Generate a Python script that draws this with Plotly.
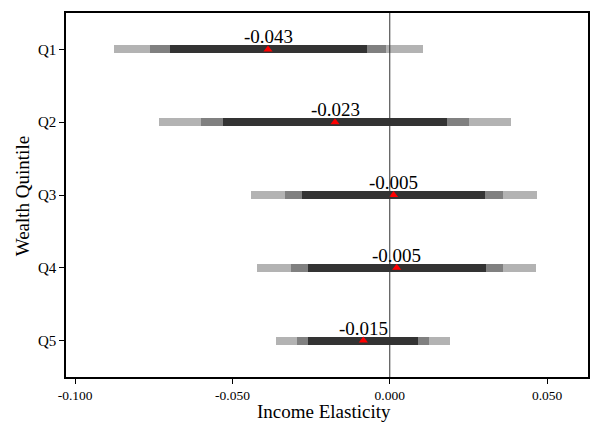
import plotly.graph_objects as go

quintiles = ["Q1", "Q2", "Q3", "Q4", "Q5"]
positions = [1, 2, 3, 4, 5]
point = [-0.0387, -0.0174, 0.0012, 0.0022, -0.0084]
labels = ["-0.043", "-0.023", "-0.005", "-0.005", "-0.015"]
ci_outer_lo = [-0.0878, -0.0732, -0.0442, -0.0421, -0.0361]
ci_outer_hi = [0.0105, 0.0384, 0.0467, 0.0465, 0.0192]
ci_mid_lo = [-0.0761, -0.0599, -0.0333, -0.0315, -0.0295]
ci_mid_hi = [-0.0012, 0.0252, 0.0359, 0.0359, 0.0126]
ci_in_lo = [-0.0700, -0.0530, -0.0278, -0.0260, -0.0260]
ci_in_hi = [-0.0073, 0.0182, 0.0304, 0.0306, 0.0091]
x_ticks = [-0.1, -0.05, 0.0, 0.05]
x_ticktext = ["-0.100", "-0.050", "0.000", "0.050"]
x_title = "Income Elasticity"
y_title = "Wealth Quintile"

FONT = "Liberation Serif, Times New Roman, serif"

fig = go.Figure()
for lo, hi, col in [(ci_outer_lo, ci_outer_hi, "#b3b3b3"),
                    (ci_mid_lo, ci_mid_hi, "#808080"),
                    (ci_in_lo, ci_in_hi, "#333333")]:
    fig.add_trace(go.Bar(
        y=positions, x=[h - l for l, h in zip(lo, hi)], base=lo,
        orientation="h", width=0.11, marker=dict(color=col, line=dict(width=0)),
        showlegend=False, hoverinfo="skip"))

fig.add_trace(go.Scatter(
    x=point, y=positions, mode="markers",
    marker=dict(symbol="triangle-up", size=8, color="red"),
    showlegend=False))

for xv, yv, t in zip(point, positions, labels):
    fig.add_annotation(x=xv, y=yv, text=t, showarrow=False, yanchor="bottom",
                       yshift=0, font=dict(family=FONT, size=19, color="black"))

fig.add_annotation(x=0.494, y=-0.094, xref="paper", yref="paper", text=x_title,
                   showarrow=False, xanchor="center", yanchor="middle",
                   font=dict(family=FONT, size=19, color="black"))
fig.add_annotation(x=-0.084, y=0.497, xref="paper", yref="paper", text=y_title,
                   showarrow=False, xanchor="center", yanchor="middle", textangle=-90,
                   font=dict(family=FONT, size=19, color="black"))

fig.add_shape(type="line", x0=0, x1=0, y0=0, y1=1, yref="paper", xref="x",
              line=dict(color="#333333", width=1), layer="above")

fig.update_layout(
    width=595, height=422,
    margin=dict(l=66, r=7, t=13, b=45, autoexpand=False),
    paper_bgcolor="white", plot_bgcolor="white",
    barmode="overlay", bargap=0,
    font=dict(family=FONT, color="black"),
    xaxis=dict(range=[-0.1029, 0.063], tickvals=x_ticks, ticktext=x_ticktext,
               ticks="outside", ticklen=5, tickcolor="black", showgrid=False,
               zeroline=False, showline=True, linecolor="black", linewidth=1.5,
               mirror=True, tickfont=dict(size=13.5), automargin=False),
    yaxis=dict(range=[5.5, 0.5], tickvals=positions, ticktext=quintiles,
               ticks="outside", ticklen=5, tickcolor="black", showgrid=False,
               zeroline=False, showline=True, linecolor="black", linewidth=1.5,
               mirror=True, tickfont=dict(size=15), automargin=False),
)

fig.write_html("out.html", config={"displayModeBar": False},
               post_script="document.body.style.margin='0px';")
